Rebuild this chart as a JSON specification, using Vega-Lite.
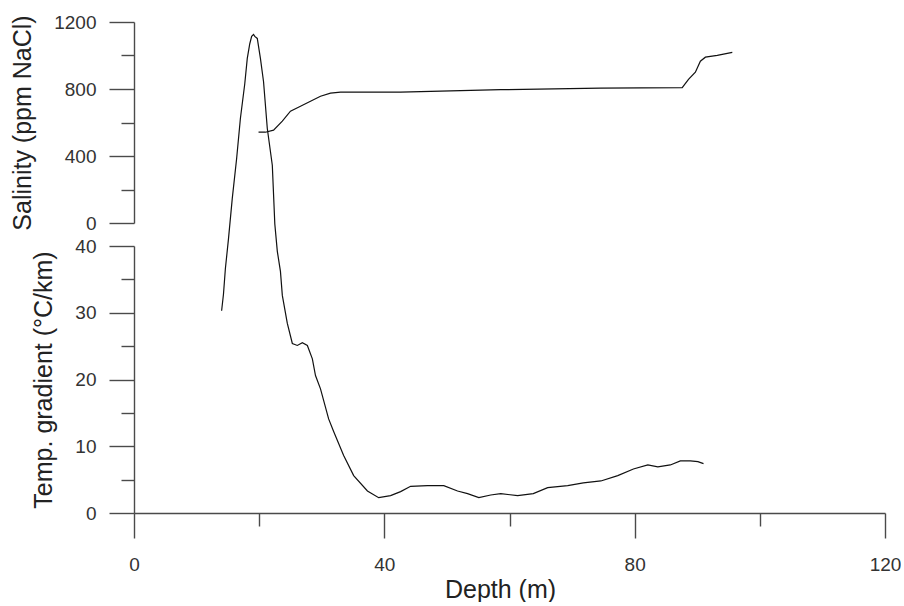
{
  "$schema": "https://vega.github.io/schema/vega-lite/v6.json",
  "background": "white",
  "padding": {"left": 10, "top": 13, "right": 0, "bottom": 0},
  "bounds": "flush",
  "spacing": 23,
  "config": {
    "view": {"stroke": null},
    "font": "Liberation Sans",
    "axis": {
      "grid": false,
      "domainColor": "#4a4a4a",
      "domainWidth": 1.4,
      "tickColor": "#4a4a4a",
      "tickWidth": 1.4,
      "tickSize": 25,
      "labelFont": "Liberation Sans",
      "labelFontSize": 19,
      "labelColor": "#333333",
      "labelOverlap": false,
      "labelFlush": false,
      "labelBound": false,
      "titleFont": "Liberation Sans",
      "titleFontSize": 25,
      "titleFontWeight": "normal",
      "titleColor": "#222222"
    }
  },
  "datasets": {
    "salinity": [
      {"depth": 19.9, "ppm": 542},
      {"depth": 21.0, "ppm": 542},
      {"depth": 22.3, "ppm": 554},
      {"depth": 23.7, "ppm": 608},
      {"depth": 25.0, "ppm": 668},
      {"depth": 26.6, "ppm": 697},
      {"depth": 28.2, "ppm": 727},
      {"depth": 29.8, "ppm": 757},
      {"depth": 31.4, "ppm": 775},
      {"depth": 33.0, "ppm": 781},
      {"depth": 42.6, "ppm": 781},
      {"depth": 58.6, "ppm": 796},
      {"depth": 74.5, "ppm": 805},
      {"depth": 87.6, "ppm": 808},
      {"depth": 88.6, "ppm": 858},
      {"depth": 89.7, "ppm": 900},
      {"depth": 90.5, "ppm": 966},
      {"depth": 91.3, "ppm": 990},
      {"depth": 93.2, "ppm": 1001},
      {"depth": 95.6, "ppm": 1019}
    ],
    "temp": [
      {"depth": 14.0, "grad": 30.3},
      {"depth": 14.3, "grad": 32.8},
      {"depth": 14.6, "grad": 36.6},
      {"depth": 15.1, "grad": 41.1},
      {"depth": 15.7, "grad": 47.1},
      {"depth": 16.4, "grad": 53.1},
      {"depth": 17.0, "grad": 59.1},
      {"depth": 17.7, "grad": 64.3},
      {"depth": 18.1, "grad": 68.1},
      {"depth": 18.5, "grad": 70.3},
      {"depth": 18.8, "grad": 71.4},
      {"depth": 19.1, "grad": 71.7},
      {"depth": 19.3, "grad": 71.4},
      {"depth": 19.7, "grad": 71.1},
      {"depth": 20.2, "grad": 68.1},
      {"depth": 20.7, "grad": 64.6},
      {"depth": 21.3, "grad": 57.6},
      {"depth": 22.1, "grad": 52.1},
      {"depth": 22.5, "grad": 43.3},
      {"depth": 22.9, "grad": 39.2},
      {"depth": 23.4, "grad": 36.2},
      {"depth": 23.7, "grad": 32.6},
      {"depth": 24.5, "grad": 28.4},
      {"depth": 25.3, "grad": 25.4},
      {"depth": 26.1, "grad": 25.1},
      {"depth": 26.9, "grad": 25.5},
      {"depth": 27.7, "grad": 25.1},
      {"depth": 28.5, "grad": 23.1},
      {"depth": 29.0, "grad": 20.6},
      {"depth": 29.8, "grad": 18.6},
      {"depth": 31.1, "grad": 14.1},
      {"depth": 31.9, "grad": 12.2},
      {"depth": 33.5, "grad": 8.6},
      {"depth": 35.1, "grad": 5.6},
      {"depth": 37.3, "grad": 3.3},
      {"depth": 39.1, "grad": 2.3},
      {"depth": 41.0, "grad": 2.6},
      {"depth": 42.6, "grad": 3.2},
      {"depth": 44.2, "grad": 4.0},
      {"depth": 46.9, "grad": 4.1},
      {"depth": 49.5, "grad": 4.1},
      {"depth": 51.7, "grad": 3.3},
      {"depth": 53.3, "grad": 2.9},
      {"depth": 55.1, "grad": 2.3},
      {"depth": 57.0, "grad": 2.7},
      {"depth": 58.6, "grad": 2.9},
      {"depth": 61.3, "grad": 2.6},
      {"depth": 63.8, "grad": 2.9},
      {"depth": 66.1, "grad": 3.8},
      {"depth": 69.3, "grad": 4.1},
      {"depth": 71.8, "grad": 4.5},
      {"depth": 74.6, "grad": 4.8},
      {"depth": 77.3, "grad": 5.6},
      {"depth": 79.8, "grad": 6.6},
      {"depth": 82.1, "grad": 7.2},
      {"depth": 83.7, "grad": 6.9},
      {"depth": 85.7, "grad": 7.2},
      {"depth": 87.3, "grad": 7.8},
      {"depth": 88.9, "grad": 7.8},
      {"depth": 90.1, "grad": 7.7},
      {"depth": 91.0, "grad": 7.4}
    ]
  },
  "vconcat": [
    {
      "width": 751,
      "height": 201,
      "data": {"name": "salinity"},
      "mark": {"type": "line", "color": "#111111", "strokeWidth": 1.2},
      "encoding": {
        "x": {"field": "depth", "type": "quantitative", "scale": {"domain": [0, 120], "nice": false}, "axis": null},
        "y": {
          "field": "ppm", "type": "quantitative",
          "scale": {"domain": [0, 1200], "nice": false},
          "axis": {
            "title": "Salinity (ppm NaCl)",
            "format": "d",
            "values": [0, 200, 400, 600, 800, 1000, 1200],
            "labelExpr": "datum.value % 400 === 0 ? datum.label : ''",
            "labelPadding": 13,
            "titlePadding": 18,
            "tickDash": {"condition": {"test": "datum.value % 400 !== 0", "value": [13, 40]}, "value": [30, 0]}
          }
        }
      }
    },
    {
      "width": 751,
      "height": 267,
      "data": {"name": "temp"},
      "mark": {"type": "line", "color": "#111111", "strokeWidth": 1.2, "clip": false},
      "encoding": {
        "x": {
          "field": "depth", "type": "quantitative",
          "scale": {"domain": [0, 120], "nice": false},
          "axis": {
            "title": "Depth (m)",
            "values": [0, 20, 40, 60, 80, 100, 120],
            "labelExpr": "datum.value % 40 === 0 ? datum.label : ''",
            "labelPadding": 17,
            "titlePadding": 3,
            "titleX": 366,
            "tickDash": {"condition": {"test": "datum.value % 40 !== 0", "value": [13, 40]}, "value": [30, 0]}
          }
        },
        "y": {
          "field": "grad", "type": "quantitative",
          "scale": {"domain": [0, 40], "nice": false},
          "axis": {
            "title": "Temp. gradient (°C/km)",
            "values": [0, 5, 10, 15, 20, 25, 30, 35, 40],
            "labelExpr": "datum.value % 10 === 0 ? datum.label : ''",
            "labelPadding": 13,
            "titlePadding": 18,
            "tickDash": {"condition": {"test": "datum.value % 10 !== 0", "value": [13, 40]}, "value": [30, 0]}
          }
        }
      }
    }
  ]
}
